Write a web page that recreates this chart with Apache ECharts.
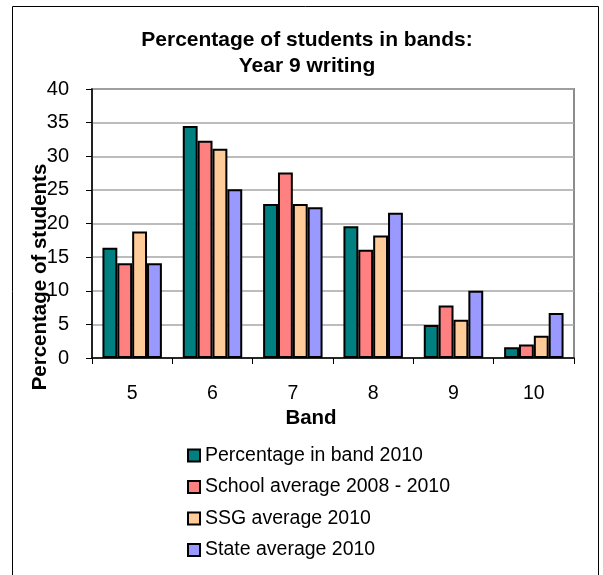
<!DOCTYPE html>
<html>
<head>
<meta charset="utf-8">
<script src="https://cdn.jsdelivr.net/npm/echarts@6/dist/echarts.min.js"></script>
<style>
  html, body { margin: 0; padding: 0; background: #fff; }
  #chart { width: 603px; height: 575px; }
</style>
</head>
<body>
<div id="chart"></div>
<script>
// Year 9 writing: share of students in each band
const bands = ['5', '6', '7', '8', '9', '10'];
const bandPct2010 = [16.4, 34.5, 22.9, 19.6, 4.9, 1.6];
const schoolAvg0810 = [14.1, 32.3, 27.6, 16.1, 7.8, 2.0];
const ssgAvg2010 = [18.8, 31.1, 22.9, 18.2, 5.7, 3.3];
const stateAvg2010 = [14.1, 25.1, 22.4, 21.6, 10.0, 6.7];
const yTicks = { min: 0, max: 40, step: 5 };

const FONT = 'Liberation Sans, Arial, sans-serif';

const seriesDefs = [
  { name: 'Percentage in band 2010', data: bandPct2010, color: '#008080' },
  { name: 'School average 2008 - 2010', data: schoolAvg0810, color: '#FF8080' },
  { name: 'SSG average 2010', data: ssgAvg2010, color: '#FFCC99' },
  { name: 'State average 2010', data: stateAvg2010, color: '#9999FF' }
];

const chart = echarts.init(document.getElementById('chart'), null, { renderer: 'canvas' });

chart.setOption({
  animation: false,
  backgroundColor: '#fff',
  textStyle: { fontFamily: FONT },
  title: {
    text: 'Percentage of students in bands:\nYear 9 writing',
    left: 302,
    textAlign: 'center',
    top: 22,
    textStyle: { fontFamily: FONT, fontSize: 21, fontWeight: 'bold', color: '#000', lineHeight: 26 }
  },
  grid: {
    left: 92, right: 29, top: 89, bottom: 217,
    show: true, borderColor: '#8c8c8c', borderWidth: 2, backgroundColor: '#fff'
  },
  legend: {
    orient: 'vertical',
    left: 187,
    top: 445,
    padding: 0,
    itemWidth: 12,
    itemHeight: 12,
    itemGap: 10.5,
    icon: 'rect',
    textStyle: { fontFamily: FONT, fontSize: 19.5, color: '#000', lineHeight: 21 },
    data: seriesDefs.map(s => ({
      name: s.name,
      itemStyle: { color: s.color, borderColor: '#000', borderWidth: 2 }
    }))
  },
  xAxis: {
    type: 'category',
    data: bands,
    boundaryGap: true,
    axisLine: { lineStyle: { color: '#000', width: 1.5 } },
    axisTick: { show: true, length: 6, lineStyle: { color: '#000' } },
    axisLabel: { fontFamily: FONT, fontSize: 19.5, color: '#000', margin: 26 },
    splitLine: { show: false }
  },
  yAxis: {
    type: 'value',
    min: yTicks.min,
    max: yTicks.max,
    interval: yTicks.step,
    axisLine: { show: true, lineStyle: { color: '#000', width: 1.5 } },
    axisTick: { show: true, length: 6, lineStyle: { color: '#000' } },
    axisLabel: { fontFamily: FONT, fontSize: 20, color: '#000', margin: 23 },
    splitLine: { show: true, lineStyle: { color: '#a6a6a6', width: 1.5 } }
  },
  series: seriesDefs.map(s => ({
    name: s.name,
    type: 'bar',
    data: s.data,
    barGap: '0%',
    barCategoryGap: '26%',
    itemStyle: { color: s.color, borderColor: '#000', borderWidth: 2 }
  })),
  graphic: [
    {
      type: 'rect',
      shape: { x: 12.5, y: 6.5, width: 586, height: 580 },
      style: { fill: 'none', stroke: '#000', lineWidth: 1 },
      silent: true, z: -10
    },
    {
      type: 'text',
      x: 40, y: 277,
      rotation: Math.PI / 2,
      style: {
        text: 'Percentage of students',
        font: 'bold 20.5px ' + FONT,
        fill: '#000',
        textAlign: 'center',
        textVerticalAlign: 'middle'
      },
      z: 100
    },
    {
      type: 'text',
      x: 311, y: 418,
      style: {
        text: 'Band',
        font: 'bold 20.5px ' + FONT,
        fill: '#000',
        textAlign: 'center',
        textVerticalAlign: 'middle'
      }
    }
  ]
});
</script>
</body>
</html>
